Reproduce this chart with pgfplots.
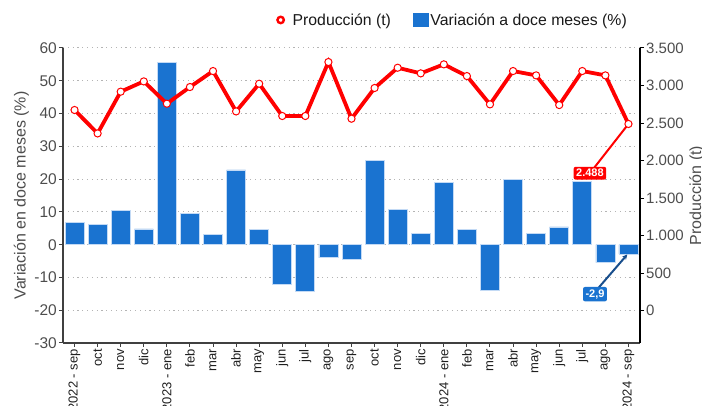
\documentclass[border=0pt]{standalone}
\usepackage{pgfplots}
\pgfplotsset{compat=1.18}
\usepackage{pgfplotstable}
\usetikzlibrary{arrows.meta}
\usepackage{fontspec}
\setmainfont{Liberation Sans}
\definecolor{barblue}{RGB}{26,115,208}
\definecolor{baredge}{RGB}{195,218,245}
\definecolor{tickgray}{RGB}{77,77,77}
\definecolor{navy}{RGB}{24,78,140}
\definecolor{gridgray}{RGB}{180,180,180}

\pgfplotstableread{
x var prod
0 6.7 2674
1 6.3 2362
2 10.5 2918
3 4.8 3055
4 55.6 2758
5 9.5 2980
6 3.1 3193
7 22.8 2655
8 4.6 3024
9 -12.1 2594
10 -14.1 2594
11 -4.0 3313
12 -4.4 2558
13 25.6 2967
14 10.7 3237
15 3.4 3162
16 19.0 3282
17 4.6 3126
18 -13.9 2749
19 20.0 3193
20 3.4 3135
21 5.4 2740
22 19.2 3193
23 -5.5 3135
24 -2.9 2488
}\data

\begin{document}
\begin{tikzpicture}
\begin{axis}[
  name=left,
  scale only axis, width=577pt, height=295pt,
  xmin=-0.5, xmax=24.5, ymin=-30, ymax=60,
  ytick={-30,-20,...,60},
  xtick={0,...,24},
  xticklabels={2022 - sep, oct, nov, dic, 2023 - ene, feb, mar, abr, may, jun, jul, ago, sep, oct, nov, dic, 2024 - ene, feb, mar, abr, may, jun, jul, ago, 2024 - sep},
  x tick label style={rotate=90, anchor=east, font=\fontsize{13}{15}\selectfont, text=black!88, inner sep=2pt},
  y tick label style={font=\fontsize{15.5}{17}\selectfont, text=tickgray, inner sep=2pt},
  /pgf/number format/assume math mode=true,
  axis x line*=bottom, axis y line*=left,
  axis line style={-, draw=black!75, line width=1.3pt},
  tick align=outside, major tick length=4pt,
  tick style={draw=black!75, line width=1pt},
  ymajorgrids,
  grid style={draw=gridgray, line width=1pt, dash pattern=on 1.2pt off 3.6pt},
  ylabel={Variación en doce meses (\%)},
  ylabel style={font=\fontsize{16}{18}\selectfont, text=tickgray},
  clip=false,
]
\addplot[ybar, bar width=19pt, fill=barblue, draw=baredge, line width=0.7pt] table[x=x,y=var]{\data};
\draw[navy, line width=2pt, -{Stealth[length=5pt,width=5pt]}] (axis cs:22.6,-14) -- (axis cs:23.95,-3.0);
\node[fill=barblue, text=white, font=\bfseries\fontsize{11}{12}\selectfont, rounded corners=2pt, inner sep=2.5pt] at (axis cs:22.55,-15.1) {-2,9};
\end{axis}
\begin{axis}[
  scale only axis, width=577pt, height=295pt,
  xmin=-0.5, xmax=24.5, ymin=-430, ymax=3500,
  axis y line*=right, axis x line=none,
  axis line style={-, draw=black, line width=1.3pt},
  ytick={0,500,...,3500},
  y tick label style={font=\fontsize{15}{17}\selectfont, text=tickgray, inner sep=2pt, /pgf/number format/.cd, 1000 sep={.}, use comma},
  /pgf/number format/assume math mode=true,
  tick align=outside, major tick length=4pt,
  tick style={draw=black, line width=1pt},
  ylabel={Producción (t)},
  ylabel style={font=\fontsize{16}{18}\selectfont, text=tickgray},
  clip=false,
  legend columns=2,
  legend style={draw=none, fill=none, at={(0.363,1.095)}, anchor=west,
    font=\fontsize{15.8}{18}\selectfont, text=black!90,
    /tikz/every even column/.append style={column sep=20pt}},
]
\addplot[red, line width=3.8pt, mark=*, mark size=3.6pt,
  mark options={fill=white, draw=red, line width=1pt},
  legend image code/.code={\path[draw=none] (0pt,0pt) -- (15pt,0pt); \draw[red, line width=2.4pt, fill=white] (5pt,0pt) circle (3.2pt);}]
  table[x=x,y=prod]{\data};
\addlegendentry{Producción (t)}
\addlegendimage{legend image code/.code={\fill[barblue] (0pt,-6.5pt) rectangle (15pt,7pt);}}
\addlegendentry{Variación a doce meses (\%)}
\draw[red, line width=2pt] (axis cs:22.33,1832) -- (axis cs:24,2488);
\node[fill=red, text=white, font=\bfseries\fontsize{11}{12}\selectfont, rounded corners=2pt, inner sep=2.5pt] at (axis cs:22.33,1832) {2.488};
\end{axis}
\pgfresetboundingbox
\path (left.south west) ++(-63pt,-63pt) rectangle ++(702pt,406pt);
\end{tikzpicture}
\end{document}
